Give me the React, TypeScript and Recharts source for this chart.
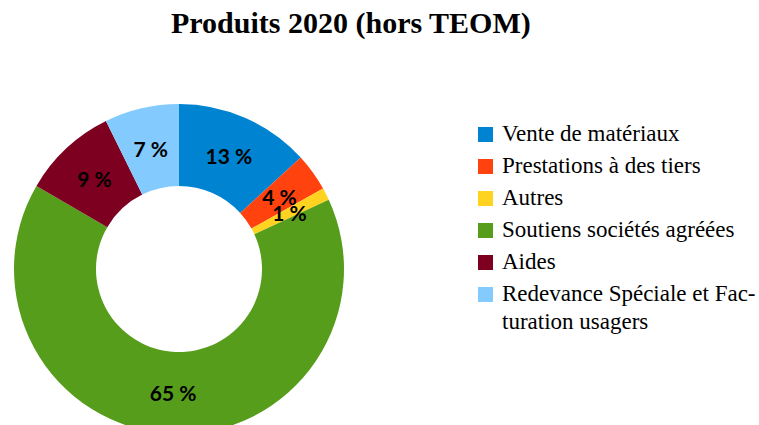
import { Cell, Pie, PieChart } from "recharts";

const names = [
  "Vente de matériaux",
  "Prestations à des tiers",
  "Autres",
  "Soutiens sociétés agréées",
  "Aides",
  "Redevance Spéciale et Fac\u00ADturation usagers",
];
const values = [13.2, 3.7, 1.2, 65.3, 9.3, 7.3];
const colors = ["#0084d1", "#ff420e", "#ffd320", "#579d1c", "#7e0021", "#83caff"];

const data = names.map((name, i) => ({ name, value: values[i] }));

const RADIAN = Math.PI / 180;
const serif = "'Liberation Serif', 'Times New Roman', Times, serif";

function renderLabel(props: any) {
  const { cx, cy, midAngle, innerRadius, outerRadius, percent } = props;
  const r = (innerRadius + outerRadius) / 2;
  const x = cx + r * Math.cos(-midAngle * RADIAN);
  const y = cy + r * Math.sin(-midAngle * RADIAN);
  return (
    <text
      x={x}
      y={y}
      textAnchor="middle"
      dominantBaseline="central"
      fill="#000"
      fontFamily="Lato, 'Open Sans', sans-serif"
      fontWeight="bold"
      fontSize={21}
    >
      {`${Math.round(percent * 100)} %`}
    </text>
  );
}

function LegendList() {
  return (
    <ul
      style={{
        position: "absolute",
        left: 478,
        top: 120,
        listStyle: "none",
        margin: 0,
        padding: 0,
        width: 280,
        fontFamily: serif,
      }}
    >
      {names.map((name, i) => (
        <li
          key={name}
          style={{
            display: "flex",
            alignItems: "flex-start",
            marginBottom: 4,
            fontSize: 23,
            lineHeight: "28px",
            color: "#000",
          }}
        >
          <span
            style={{
              display: "inline-block",
              width: 15,
              height: 15,
              background: colors[i],
              marginTop: 7,
              marginRight: 9,
              flex: "none",
            }}
          />
          <span style={{ width: 262 }}>{name}</span>
        </li>
      ))}
    </ul>
  );
}

export default function App() {
  return (
    <div style={{ position: "absolute", left: 0, top: 0, width: 759, height: 425, background: "#fff", overflow: "hidden" }}>
      <div
        style={{
          position: "absolute",
          left: 171,
          top: 6,
          fontFamily: serif,
          fontWeight: "bold",
          fontSize: 30,
          whiteSpace: "nowrap",
          color: "#000",
        }}
      >
        Produits 2020 (hors TEOM)
      </div>
      <PieChart
        width={759}
        height={425}
        margin={{ top: 0, right: 0, bottom: 0, left: 0 }}
        style={{ position: "absolute", left: 0, top: 0 }}
      >
        <Pie
          data={data}
          dataKey="value"
          nameKey="name"
          cx={179}
          cy={269}
          innerRadius={83}
          outerRadius={165}
          startAngle={90}
          endAngle={-270}
          stroke="none"
          label={renderLabel}
          labelLine={false}
          isAnimationActive={false}
        >
          {data.map((d, i) => (
            <Cell key={d.name} fill={colors[i]} />
          ))}
        </Pie>
      </PieChart>
      <LegendList />
    </div>
  );
}
